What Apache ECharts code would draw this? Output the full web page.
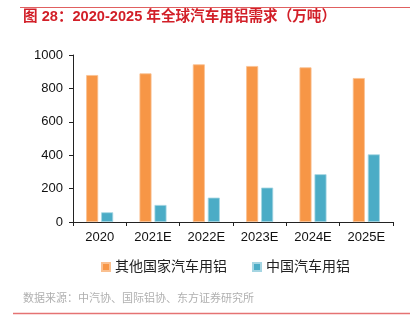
<!DOCTYPE html>
<html><head><meta charset="utf-8">
<script src="https://cdn.jsdelivr.net/npm/echarts@6/dist/echarts.min.js"></script>
<style>html,body{margin:0;padding:0;background:#fff}#c{width:420px;height:324px}</style>
</head><body><div id="c"></div>
<script>
var categories = ['2020','2021E','2022E','2023E','2024E','2025E'];
var otherCountries = [880, 890, 944, 934, 926, 862];
var china = [58, 102, 146, 206, 286, 405];
var yTicks = [0, 200, 400, 600, 800, 1000];
var seriesNames = ['其他国家汽车用铝', '中国汽车用铝'];
var titleText = '图 28：2020-2025 年全球汽车用铝需求（万吨）';
var sourceText = '数据来源：中汽协、国际铝协、东方证券研究所';

var chart = echarts.init(document.getElementById('c'));
var font = '"Liberation Sans", Arial, "Noto Sans CJK SC", sans-serif';
chart.setOption({
  animation: false,
  textStyle: {fontFamily: font},
  grid: {left: 73, right: 27, top: 55, bottom: 102},
  legend: {
    data: seriesNames, top: 255, left: 96, itemGap: 25,
    itemWidth: 8, itemHeight: 8, icon: 'rect',
    textStyle: {fontSize: 14, color: '#222', fontFamily: font}
  },
  xAxis: {
    type: 'category', data: categories,
    axisLine: {lineStyle: {color: '#222', width: 1}},
    axisTick: {show: true, inside: false, length: 4, alignWithLabel: false, lineStyle: {color: '#222'}},
    axisLabel: {fontSize: 13, color: '#111', margin: 9}
  },
  yAxis: {
    type: 'value', min: yTicks[0], max: yTicks[yTicks.length-1], interval: 200,
    axisLine: {show: true, lineStyle: {color: '#222'}},
    axisTick: {show: true, length: 4, lineStyle: {color: '#222'}},
    splitLine: {show: false},
    axisLabel: {fontSize: 13, color: '#111', margin: 10, formatter: function(v){ return String(v); }}
  },
  series: [
    {name: seriesNames[0], type: 'bar', data: otherCountries, barWidth: 12, barGap: '25%',
     itemStyle: {color: '#F79646', borderColor: '#FAC090', borderWidth: 0.8}},
    {name: seriesNames[1], type: 'bar', data: china, barWidth: 12,
     itemStyle: {color: '#4BACC6', borderColor: '#A5D5E2', borderWidth: 0.8}}
  ],
  graphic: [
    {type: 'line', shape: {x1: 20, y1: 7.5, x2: 410, y2: 7.5}, style: {stroke: '#E06060', lineWidth: 1}},
    {type: 'text', left: 23, top: 9.5, style: {text: titleText, fill: '#D21F28', font: '600 14.6px ' + font}},
    {type: 'text', left: 23, top: 293, style: {text: sourceText, fill: '#B0B0B0', font: '11px ' + font}},
    {type: 'line', shape: {x1: 13, y1: 313.5, x2: 410, y2: 313.5}, style: {stroke: '#E57373', lineWidth: 1.5}}
  ]
});
</script></body></html>
